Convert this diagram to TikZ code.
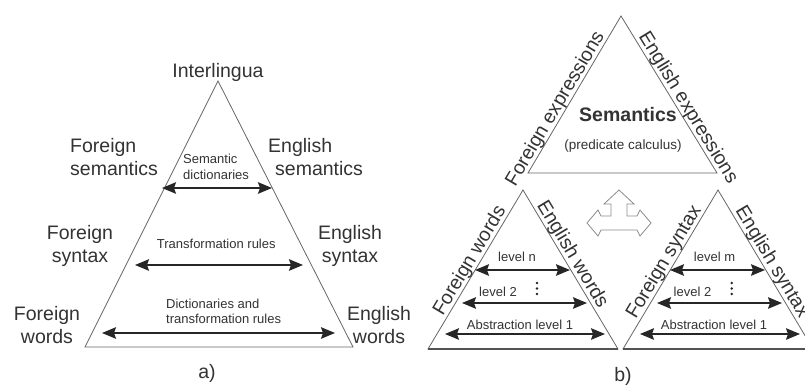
\documentclass[tikz,border=0pt]{standalone}
\usepackage{fontspec}
\setmainfont{Liberation Sans}
\usetikzlibrary{arrows.meta}
\definecolor{txt}{gray}{0.2}
\definecolor{edge}{gray}{0.4}
\definecolor{hollow}{gray}{0.55}
\begin{document}
\begin{tikzpicture}[x=1pt,y=-1pt,
  big/.style={font=\fontsize{19.5}{23}\selectfont, text=txt, inner sep=0pt},
  small/.style={font=\fontsize{13}{16}\selectfont, text=txt, inner sep=0pt},
  tri/.style={draw=edge, line width=0.8pt, line join=miter},
  basel/.style={draw=edge!80!black, line width=1.3pt},
  dbl/.style={line width=1.6pt, draw=black!85,
    {Stealth[length=14pt,width=11.5pt,inset=2pt]}-{Stealth[length=14pt,width=11.5pt,inset=2pt]}},
  hollowarrow/.style={draw=hollow, fill=white, line width=0.8pt, line join=miter}
  ]
\clip (0,0) rectangle (805,387);
\fill[white] (0,0) rectangle (805,387);

% ---------- a) ----------
\coordinate (aT) at (218,81);
\coordinate (aL) at (85,347);
\coordinate (aR) at (353,347);
\draw[tri] (aL) -- (aT) -- (aR) -- cycle;

\node[big, anchor=base] (inter) at (218,77.3) {Interlingua};
\node[big, align=left, anchor=west] (fsem) at (70,157.4) {Foreign\\semantics};
\node[big, align=left, anchor=west] (esem) at (268,157.4) {English\\\hspace*{7pt}semantics};
\node[big, align=center] (fsyn) at (80,245.9) {Foreign\\syntax};
\node[big, align=center] (esyn) at (350,245.9) {English\\syntax};
\node[big, align=center] (fwrd) at (47,325.4) {Foreign\\words};
\node[big, align=center] (ewrd) at (379,325.4) {English\\words};

\node[small, align=left, anchor=west] (semdic) at (183,167.3) {Semantic\\dictionaries};
\node[small, anchor=base west] (trans) at (156.7,248.3) {Transformation rules};
\node[small, align=left, anchor=west, font=\fontsize{13}{15.5}\selectfont] (dictr) at (166,311.3) {Dictionaries and\\transformation rules};

\coordinate (s1) at (162,188); \coordinate (s2) at (272,188);
\coordinate (t1) at (135,265); \coordinate (t2) at (303,265);
\coordinate (d1) at (102,333); \coordinate (d2) at (335,333);
\draw[dbl] (s1) -- (s2);
\draw[dbl] (t1) -- (t2);
\draw[dbl] (d1) -- (d2);

\node[big, anchor=base] (la) at (207,378) {a)};

% ---------- b) top triangle ----------
\coordinate (bT) at (621,16);
\coordinate (bL) at (528,173);
\coordinate (bR) at (717,173);
\draw[tri] (bL) -- (bT) -- (bR) -- cycle;
\node[big, font=\fontsize{19.5}{23}\selectfont\bfseries, anchor=base] (sem) at (628,121.7) {Semantics};
\node[small, font=\fontsize{13.5}{16}\selectfont, anchor=base] (pred) at (623,149.3) {(predicate calculus)};
\node[big, anchor=base, rotate=59.4] (fexp) at (560,111.6) {Foreign expressions};
\node[big, anchor=base, rotate=-58.6] (eexp) at (683.5,110.6) {English expressions};

% ---------- b) bottom-left triangle ----------
\coordinate (cT) at (523,190);
\coordinate (cL) at (428,349);
\coordinate (cR) at (618,349);
\draw[tri] (cL) -- (cT) -- (cR) -- cycle;
\draw[basel] (cL) -- (cR);
\node[big, anchor=base, rotate=59.1] (fw) at (474.5,263.5) {Foreign words};
\node[big, anchor=base, rotate=-59.1] (ew) at (567.8,257.2) {English words};
\node[small, anchor=base] (ln) at (517,261.7) {level n};
\node[small, anchor=base] (l2a) at (498,296) {level 2};
\node[small, anchor=base] (l1a) at (520,329) {Abstraction level 1};
\foreach \yy in {283,288.5,294} \fill[black!85] (537,\yy) circle (1.3pt);
\coordinate (n1) at (475,270); \coordinate (n2) at (570,270);
\coordinate (p1) at (462,303); \coordinate (p2) at (587,303);
\coordinate (q1) at (445,334); \coordinate (q2) at (605,334);
\draw[dbl] (n1) -- (n2);
\draw[dbl] (p1) -- (p2);
\draw[dbl] (q1) -- (q2);

% ---------- b) bottom-right triangle ----------
\coordinate (dT) at (718,190);
\coordinate (dL) at (623,349);
\coordinate (dR) at (813,349);
\draw[tri] (dL) -- (dT) -- (dR) -- cycle;
\draw[basel] (dL) -- (dR);
\node[big, anchor=base, rotate=59.1] (fs) at (668.7,264.7) {Foreign syntax};
\node[big, anchor=base, rotate=-59.1] (es) at (767.3,264.7) {English syntax};
\node[small, anchor=base] (lm) at (714.5,261.7) {level m};
\node[small, anchor=base] (l2b) at (692.5,296) {level 2};
\node[small, anchor=base] (l1b) at (714,329) {Abstraction level 1};
\foreach \yy in {283,288.5,294} \fill[black!85] (731.7,\yy) circle (1.3pt);
\coordinate (m1) at (670,270); \coordinate (m2) at (765,270);
\coordinate (r1) at (657,303); \coordinate (r2) at (782,303);
\coordinate (u1) at (640,334); \coordinate (u2) at (800,334);
\draw[dbl] (m1) -- (m2);
\draw[dbl] (r1) -- (r2);
\draw[dbl] (u1) -- (u2);

% ---------- hollow three-way arrow ----------
\draw[hollowarrow] (587,223) -- (598,210) -- (601,216) -- (611,216) -- (611,204) -- (604,204)
  -- (619,190) -- (634,204) -- (627,204) -- (627,216) -- (637,216) -- (640,210)
  -- (651,223) -- (640,236) -- (637,230) -- (601,230) -- (598,236) -- cycle;

\node[big, anchor=base] (lb) at (623,381) {b)};
\end{tikzpicture}
\end{document}
